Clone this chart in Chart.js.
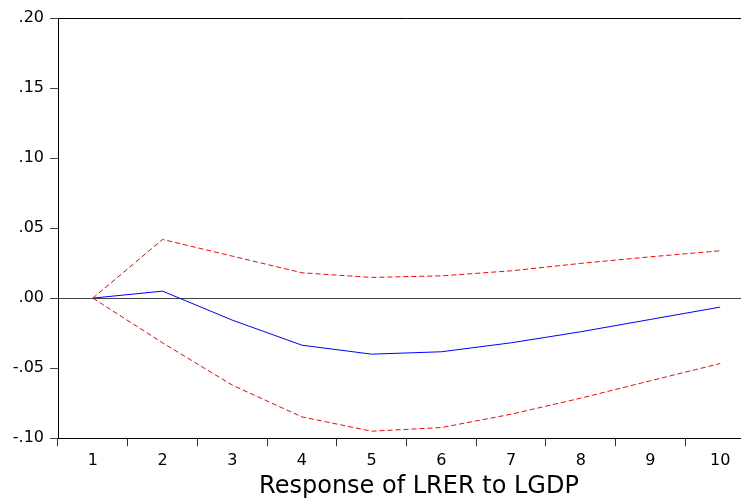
<!DOCTYPE html>
<html>
<head>
<meta charset="utf-8">
<script src="https://cdn.jsdelivr.net/npm/chart.js@4"></script>
<style>
  html, body { margin: 0; padding: 0; background: #fff; overflow: hidden; }
  #wrap { width: 838px; height: 501px; }
</style>
</head>
<body>
<div id="wrap"><canvas id="irf"></canvas></div>
<script>
var periods = ['1', '2', '3', '4', '5', '6', '7', '8', '9', '10'];
var response = [0.000, 0.005, -0.0157, -0.0336, -0.040, -0.0383, -0.0319, -0.024, -0.0152, -0.0064];
var upperBand = [0.000, 0.0419, 0.030, 0.0181, 0.0148, 0.0159, 0.0195, 0.0248, 0.0295, 0.0338];
var lowerBand = [0.000, -0.0319, -0.0621, -0.0848, -0.095, -0.0924, -0.0829, -0.0714, -0.059, -0.0467];
var yTicks = [-0.10, -0.05, 0.00, 0.05, 0.10, 0.15, 0.20];

// frame line along the top of the plot
var topFrame = {
    id: 'topFrame',
    afterDraw: function(chart) {
        var a = chart.chartArea, c = chart.ctx;
        c.save();
        c.lineWidth = 1;
        c.strokeStyle = '#000';
        c.beginPath();
        c.moveTo(a.left, a.top + 0.5);
        c.lineTo(a.right, a.top + 0.5);
        c.stroke();
        c.restore();
    }
};

function fmt(v) {
    var s = Math.abs(v).toFixed(2).replace(/^0/, '');
    return (v < -1e-9 ? '-' : '') + s;
}

var ctx = document.getElementById('irf');
new Chart(ctx, {
    type: 'line',
    data: {
        labels: periods,
        datasets: [{
            label: 'Response',
            data: response,
            borderColor: '#0000FF',
            borderWidth: 1,
            pointRadius: 0,
            tension: 0
        }, {
            label: 'Upper',
            data: upperBand,
            borderColor: '#FF0000',
            borderWidth: 1,
            borderDash: [5, 3],
            pointRadius: 0,
            tension: 0
        }, {
            label: 'Lower',
            data: lowerBand,
            borderColor: '#FF0000',
            borderWidth: 1,
            borderDash: [5, 3],
            pointRadius: 0,
            tension: 0
        }]
    },
    options: {
        responsive: true,
        maintainAspectRatio: false,
        animation: false,
        layout: { padding: { top: 18, right: 0, left: 0, bottom: 0 } },
        plugins: {
            legend: { display: false },
            tooltip: { enabled: false },
            title: {
                display: true,
                position: 'bottom',
                text: 'Response of LRER to LGDP',
                color: '#000',
                padding: { top: 0, bottom: 0 },
                font: { family: 'DejaVu Sans', size: 24, weight: 'normal' }
            }
        },
        scales: {
            x: {
                type: 'category',
                offset: true,
                grid: {
                    offset: true,
                    drawOnChartArea: false,
                    tickLength: 8,
                    tickColor: '#333'
                },
                border: { color: '#000', width: 1 },
                ticks: {
                    color: '#000',
                    padding: 5,
                    font: { family: 'DejaVu Sans', size: 16 }
                },
                afterFit: function(scale) { scale.height = 34; }
            },
            y: {
                min: -0.10,
                max: 0.20,
                afterBuildTicks: function(scale) {
                    scale.ticks = yTicks.map(function(v) { return { value: v }; });
                },
                grid: {
                    drawOnChartArea: true,
                    drawTicks: true,
                    tickLength: 8,
                    tickColor: '#444',
                    color: function(c) {
                        return (c.tick && Math.abs(c.tick.value) < 1e-9) ? '#444' : 'rgba(0,0,0,0)';
                    }
                },
                border: { color: '#000', width: 1 },
                ticks: {
                    color: '#000',
                    padding: 6,
                    font: { family: 'DejaVu Sans', size: 16 },
                    callback: function(v) { return fmt(v); }
                },
                afterFit: function(scale) { scale.width = 58; }
            },
            // empty spacer on the right, the plot runs past the window edge
            spacer: {
                type: 'linear',
                position: 'right',
                grid: { display: false, drawTicks: false },
                border: { display: false },
                ticks: { display: false },
                afterFit: function(scale) { scale.width = 83; }
            }
        }
    },
    plugins: [topFrame]
});
</script>
</body>
</html>
